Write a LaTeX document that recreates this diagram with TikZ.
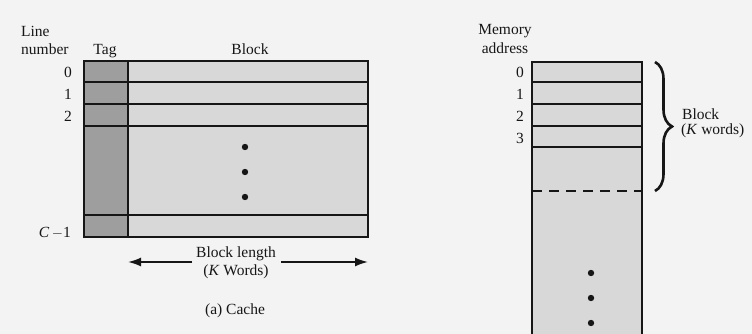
\documentclass[tikz,border=0pt]{standalone}
\usepackage{fontspec}
\setmainfont{Liberation Serif}
\usetikzlibrary{arrows.meta,decorations.pathreplacing}
\definecolor{bgc}{HTML}{F3F3F3}
\definecolor{tagc}{HTML}{9E9E9E}
\definecolor{blkc}{HTML}{D8D8D8}
\definecolor{inkc}{HTML}{161616}
\tikzset{
  lbl/.style={font=\fontsize{15.5}{18.5}\selectfont, text=inkc, inner sep=0pt},
  rowline/.style={draw=inkc, line width=1.8pt},
  dotc/.style={fill=inkc},
  arr/.style={draw=inkc, line width=1.8pt, -{Latex[length=13pt,width=9pt]}}
}
\begin{document}
\begin{tikzpicture}[x=1pt,y=-1pt]
\useasboundingbox[fill=bgc] (0,0) rectangle (752,334);
% ---------- Cache ----------
\fill[tagc] (84,61) rectangle (128,237);
\fill[blkc] (128,61) rectangle (368,237);
\draw[rowline] (84,61) rectangle (368,237);
\draw[rowline] (128,61) -- (128,237);
\foreach \yy in {82,104,126,215} \draw[rowline] (84,\yy) -- (368,\yy);
\foreach \yy in {147,172,197} \fill[dotc] (245,\yy) circle (3.2pt);
\node[lbl, anchor=base west] (linel) at (21,37) {Line};
\node[lbl, anchor=base west] (numl) at (21,55) {number};
\node[lbl, anchor=base] (tagl) at (105,55) {Tag};
\node[lbl, anchor=base] (blockl) at (250,55) {Block};
\node[lbl, anchor=base east] (c0) at (72,78) {0};
\node[lbl, anchor=base east] (c1) at (72,100) {1};
\node[lbl, anchor=base east] (c2) at (72,122) {2};
\node[lbl, anchor=base east] (cC) at (71,237) {\textit{C}\,$-$1};
\node[lbl, anchor=base] (bl) at (236,257) {Block length};
\node[lbl, anchor=base] (blk) at (236,275) {(\textit{K} Words)};
\coordinate (blL) at (128,262);
\coordinate (blR) at (368,262);
\coordinate (blLs) at (192,262);
\coordinate (blRs) at (281,262);
\draw[arr] (blLs) -- (blL);
\draw[arr] (blRs) -- (blR);
\node[lbl, anchor=base] (capa) at (235,314) {(a) Cache};
% ---------- Memory ----------
\fill[blkc] (532,62) rectangle (642,335);
\draw[rowline] (532,336) -- (532,62) -- (642,62) -- (642,336);
\foreach \yy in {82,104,126,147} \draw[rowline] (532,\yy) -- (642,\yy);
\draw[draw=inkc, line width=1.8pt, dash pattern=on 10pt off 7pt] (532,191) -- (642,191);
\foreach \yy in {273,298,323} \fill[dotc] (591,\yy) circle (3.2pt);
\node[lbl, anchor=base] (meml) at (505,35) {Memory};
\node[lbl, anchor=base] (addrl) at (505,54) {address};
\node[lbl, anchor=base east] (m0) at (524,78) {0};
\node[lbl, anchor=base east] (m1) at (524,100) {1};
\node[lbl, anchor=base east] (m2) at (524,122) {2};
\node[lbl, anchor=base east] (m3) at (524,143) {3};
\coordinate (brT) at (655,62);
\coordinate (brB) at (655,191);
\draw[draw=inkc, line width=2.6pt, decorate, decoration={brace, amplitude=17pt}] (brT) -- (brB);
\node[lbl, anchor=base west] (blkb) at (682,120) {Block};
\node[lbl, anchor=base west] (blkw) at (681,135) {(\textit{K} words)};
\end{tikzpicture}
\end{document}
